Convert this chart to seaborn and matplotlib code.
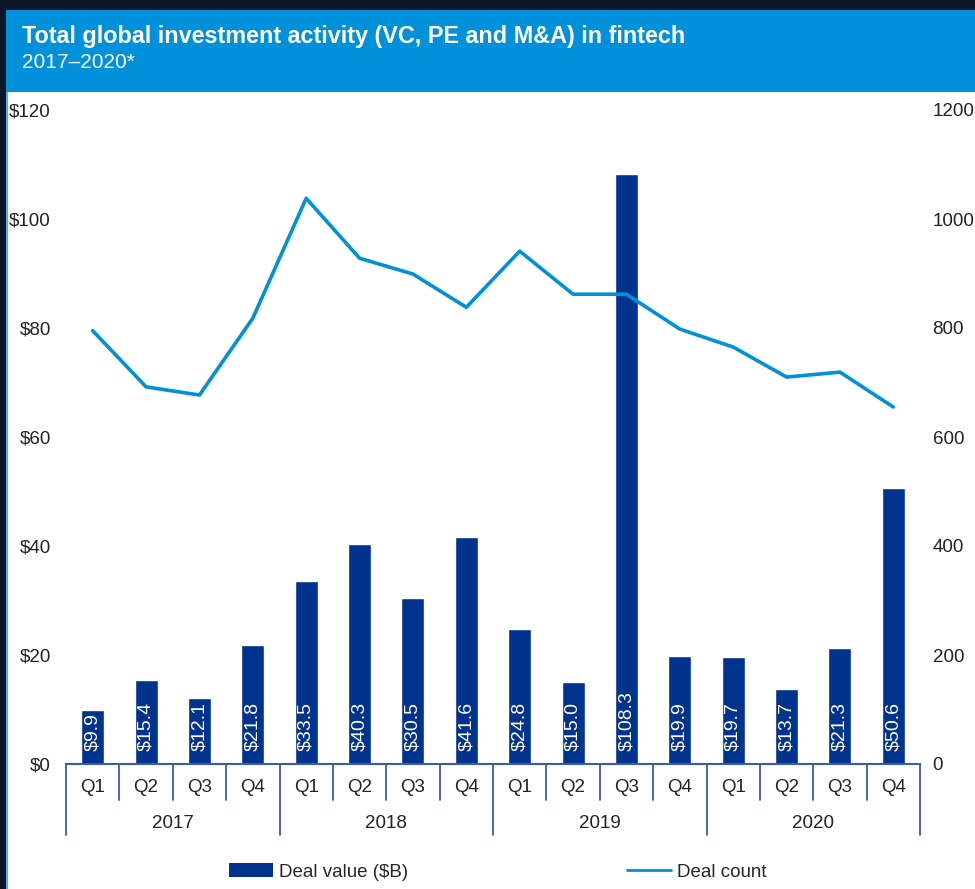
import matplotlib
matplotlib.use("Agg")
import matplotlib.pyplot as plt
from matplotlib.patches import Rectangle, Patch
from matplotlib.lines import Line2D
import seaborn as sns
import pandas as pd

# Quarterly fintech investment data
years = ["2017", "2018", "2019", "2020"]
quarters = ["Q1", "Q2", "Q3", "Q4"]
deal_value = [9.9, 15.4, 12.1, 21.8,
              33.5, 40.3, 30.5, 41.6,
              24.8, 15.0, 108.3, 19.9,
              19.7, 13.7, 21.3, 50.6]
deal_count = [795, 692, 677, 818,
              1038, 928, 899, 838,
              941, 862, 862, 798,
              765, 710, 719, 655]
value_ticks = [0, 20, 40, 60, 80, 100, 120]
count_ticks = [0, 200, 400, 600, 800, 1000, 1200]

BAR = "#00338D"
LINE = "#0091DA"
HEADER = "#0091DA"
FRAME = "#0b1629"
AXIS = "#3d5ca8"
TEXT = "#222222"
FS = 13.5

sns.set_theme(style="white")
plt.rcParams["font.family"] = ["Liberation Sans", "DejaVu Sans"]

periods = [f"{y} {q}" for y in years for q in quarters]
df = pd.DataFrame({"period": periods, "value": deal_value,
                   "count": deal_count, "pos": range(len(periods))})

W, H = 975, 889
fig = plt.figure(figsize=(W / 100, H / 100), dpi=100, facecolor=FRAME)

# White panel and blue header band, kept behind the axes
fig.patches.append(Rectangle((6 / W, 0), 1 - 6 / W, 1 - 10 / H,
                             transform=fig.transFigure, facecolor="white",
                             edgecolor="none", zorder=-3))
fig.patches.append(Rectangle((6 / W, 0), 2 / W, 1 - 10 / H,
                             transform=fig.transFigure, facecolor="#4fb3e8",
                             edgecolor="none", zorder=-2))
fig.patches.append(Rectangle((6 / W, 1 - 92 / H), 1 - 6 / W, 82 / H,
                             transform=fig.transFigure, facecolor=HEADER,
                             edgecolor="none", zorder=-2))
fig.text(22 / W, 1 - 37 / H,
         "Total global investment activity (VC, PE and M&A) in fintech",
         color="white", fontsize=16.8, fontweight="bold", va="center", ha="left")
fig.text(22 / W, 1 - 63 / H, "2017\u20132020*", color="white",
         fontsize=15, va="center", ha="left")

left, right, bottom, top = 66, 920, 764, 110
ax = fig.add_axes([left / W, 1 - bottom / H, (right - left) / W, (bottom - top) / H])
ax.set_facecolor("none")

sns.barplot(data=df, x="period", y="value", order=periods, color=BAR,
            width=0.43, saturation=1, ax=ax)
ax.set_xlim(-0.5, len(periods) - 0.5)
ax.set_ylim(0, 120)
ax.set_yticks(value_ticks)
ax.set_yticklabels([f"${v}" for v in value_ticks], fontsize=FS, color=TEXT)
ax.tick_params(axis="y", length=0, pad=11)
ax.set_xticks([])
ax.set_xlabel("")
ax.set_ylabel("")
for s in ["left", "right", "top"]:
    ax.spines[s].set_visible(False)
ax.spines["bottom"].set_color(AXIS)
ax.spines["bottom"].set_linewidth(1.5)

# Value labels inside the bars
for i, v in enumerate(deal_value):
    ax.text(i, 2.3, f"${v:.1f}", rotation=90, ha="center", va="bottom",
            color="white", fontsize=14)

ax2 = ax.twinx()
sns.lineplot(data=df, x="pos", y="count", color=LINE, linewidth=2.6, ax=ax2)
ax2.set_ylim(0, 1200)
ax2.set_yticks(count_ticks)
ax2.set_yticklabels([str(v) for v in count_ticks], fontsize=FS, color=TEXT)
ax2.tick_params(axis="y", length=0, pad=9)
ax2.set_xlabel("")
ax2.set_ylabel("")
for s in ax2.spines.values():
    s.set_visible(False)
ax2.set_xlim(-0.5, len(periods) - 0.5)

# Two-level category axis: quarters and years
tr = ax.get_xaxis_transform()
h = bottom - top
q_len = 36 / h
y_len = 71 / h
n = len(periods)
for b in range(n + 1):
    x = b - 0.5
    depth = y_len if b % 4 == 0 else q_len
    ax.plot([x, x], [0, -depth], transform=tr, color=AXIS, lw=1.3, clip_on=False)
for i, p in enumerate(periods):
    ax.text(i, -23 / h, p.split()[1], transform=tr, ha="center", va="center",
            fontsize=FS, color=TEXT)
for j, yname in enumerate(years):
    ax.text(j * 4 + 1.5, -59 / h, yname, transform=tr, ha="center", va="center",
            fontsize=FS, color=TEXT)

handles = [Patch(facecolor=BAR, edgecolor="none"),
           Line2D([0], [0], color=LINE, lw=2)]
fig.legend(handles, ["Deal value ($B)", "Deal count"], loc="center left",
           bbox_to_anchor=(212 / W, 1 - 872 / H), ncol=2, frameon=False,
           fontsize=FS, handlelength=2.35, handleheight=0.75,
           columnspacing=11.7, handletextpad=0.3)

fig.savefig("out.png", dpi=100, facecolor=FRAME)
